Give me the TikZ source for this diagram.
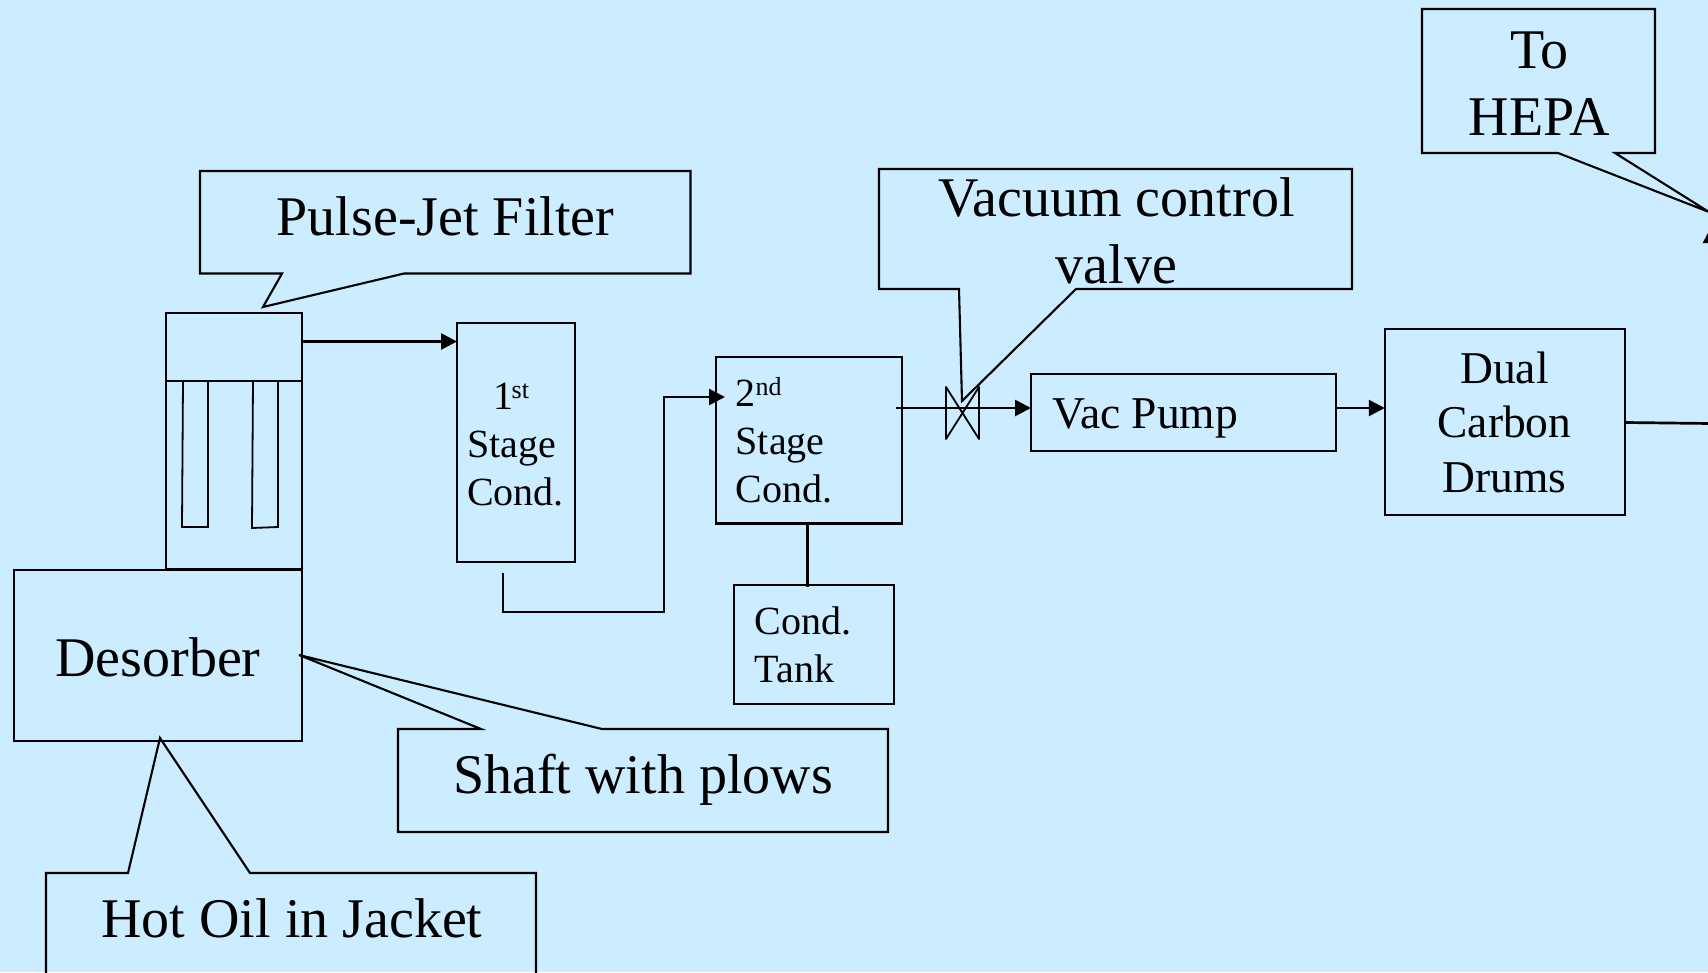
\documentclass[tikz,border=0pt]{standalone}
\usepackage{fontspec}
\setmainfont{Liberation Serif}
\usetikzlibrary{arrows.meta,calc}
\definecolor{paper}{HTML}{CCECFF}
\tikzset{
  x=1pt,y=-1pt,
  outline/.style={draw=black,line width=2.1pt,line join=miter},
  boxnode/.style={outline,rectangle,inner sep=0pt,outer sep=0pt},
  thin part/.style={draw=black,line width=1.8pt},
  pipe/.style={draw=black,line width=2.7pt},
  flow/.style={pipe,-{Triangle[length=16pt,width=16pt]}},
  bigtext/.style={inner sep=0pt,anchor=base,align=center,font=\fontsize{56}{66.5}\selectfont},
  midtext/.style={inner sep=0pt,anchor=base,align=center,font=\fontsize{45.5}{54.5}\selectfont},
  smalltext/.style={inner sep=0pt,anchor=base,align=center,font=\fontsize{40}{48}\selectfont},
  lefttext/.style={smalltext,align=left,anchor=base west},
}
\newcommand{\ordsup}[1]{\raisebox{11pt}{\fontsize{26}{26}\selectfont #1}}
\begin{document}
\begin{tikzpicture}
\useasboundingbox (0,0) rectangle (1708,972);
\fill[paper] (0,0) rectangle (1708,972);
\clip (0,0) rectangle (1708,972);

% callouts
\draw[outline] (200,171) -- (690.5,171) -- (690.5,273.5) -- (404,273.5) -- (263,307) -- (282,273.5) -- (200,273.5) -- cycle;
\node[bigtext] (pulse) at (445.5,235.5) {Pulse-Jet Filter};

\draw[outline] (879,169) -- (1352,169) -- (1352,289) -- (1076,289) -- (962,401) -- (959,289) -- (879,289) -- cycle;
\node[bigtext] (vcv) at (1116.5,283) {Vacuum control\\valve};

\draw[outline] (1422,9) -- (1655,9) -- (1655,153) -- (1615,153) -- (1709,212) -- (1558,153) -- (1422,153) -- cycle;
\node[bigtext] (hepa) at (1539.5,135) {To\\HEPA};

\draw[outline] (398,729) -- (481,729) -- (299,655) -- (602,729) -- (888,729) -- (888,832) -- (398,832) -- cycle;
\node[bigtext] (shaft) at (643,793.5) {Shaft with plows};

\draw[outline] (46,1000) -- (46,873) -- (128,873) -- (160,738) -- (250,873) -- (536,873) -- (536,1000);
\node[bigtext] (oil) at (292,937) {Hot Oil in Jacket};

% equipment
\node[boxnode,minimum width=288pt,minimum height=171pt] (desorber) at (158,655.5) {};
\node[bigtext] (desorbertext) at (158,676) {Desorber};

\node[boxnode,minimum width=136pt,minimum height=256pt] (filter) at (234,441) {};
\coordinate (fl) at (166,381);
\coordinate (fr) at (302,381);
\draw[pipe] (fl) -- (fr);
\draw[pipe] (desorber.north west -| filter.west) -- (desorber.north east);
\draw[thin part] (183,381) -- (182,527) -- (208,527) -- (208,381);
\draw[thin part] (253,381) -- (252,528) -- (278,527) -- (278,381);

\node[boxnode,minimum width=118pt,minimum height=239pt] (stage1) at (516,442.5) {};
\node[lefttext] (stage1text) at (467,505) {\hspace*{26pt}1\hspace*{-1.5pt}\ordsup{st}\\Stage\\Cond.};

\node[boxnode,minimum width=186pt,minimum height=166.5pt] (stage2) at (809,440.25) {};
\node[lefttext] (stage2text) at (735.5,502) {2\ordsup{nd}\\Stage\\Cond.};

\node[boxnode,minimum width=160pt,minimum height=119pt] (tank) at (814,644.5) {};
\node[lefttext] (tanktext) at (754.5,682) {Cond.\\Tank};

\node[boxnode,minimum width=305pt,minimum height=77pt] (pump) at (1183.5,412.5) {};
\node[midtext,anchor=base west] (pumptext) at (1052,428) {Vac Pump};

\node[boxnode,minimum width=240.5pt,minimum height=186pt] (drums) at (1505,422) {};
\node[midtext] (drumstext) at (1504.5,492) {Dual\\Carbon\\Drums};

% valve
\coordinate (v1) at (946,387);
\coordinate (v2) at (979,439);
\coordinate (v3) at (979,387);
\coordinate (v4) at (946,439);
\draw[thin part,line join=round] (v1) -- (v2) -- (v3) -- (v4) -- cycle;

% connectors
\coordinate (a1) at (filter.east |- 0,341.5);
\draw[flow] (a1) -- (a1 -| stage1.west);
\coordinate (b1) at (503,573);
\coordinate (b2) at (503,612);
\coordinate (b3) at (664,612);
\coordinate (b4) at (664,397);
\coordinate (b5) at (725,397);
\draw[flow] (b1) -- (b2) -- (b3) -- (b4) -- (b5);
\coordinate (c1) at (807.5,587);
\draw[pipe] (stage2.south -| c1) -- (c1);
\coordinate (d1) at (896,408);
\draw[flow] (d1) -- (d1 -| pump.west);
\coordinate (e1) at (pump.east |- 0,408);
\draw[flow] (e1) -- (e1 -| drums.west);
\coordinate (g1) at (drums.east |- 0,422.5);
\coordinate (g2) at (1711,423.5);
\coordinate (g3) at (1711,227);
\draw[flow] (g1) -- (g2) -- (g3);
\end{tikzpicture}
\end{document}
